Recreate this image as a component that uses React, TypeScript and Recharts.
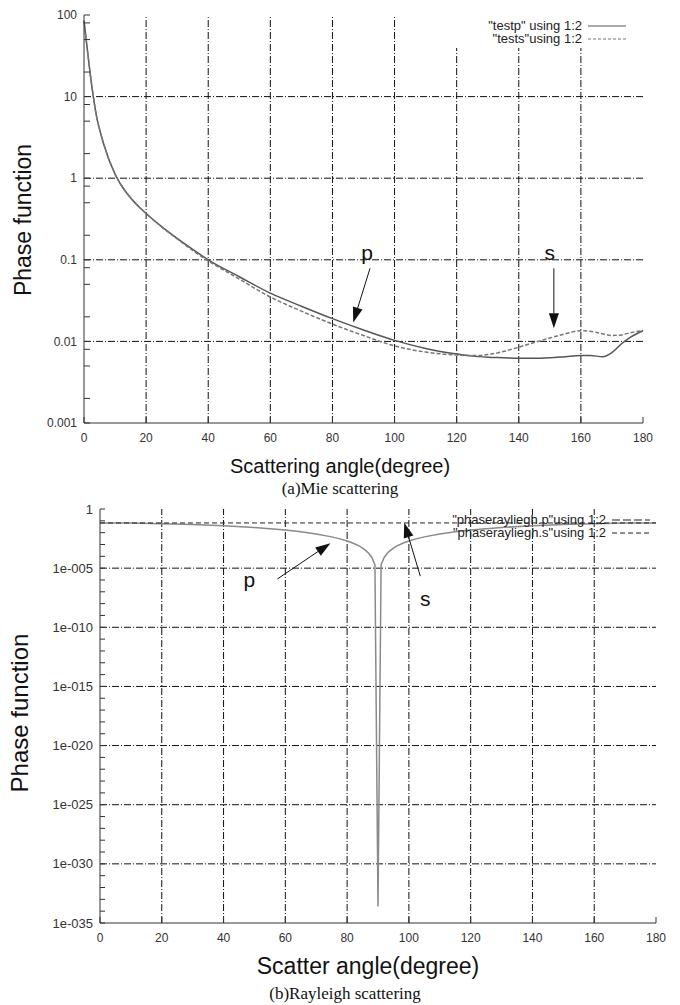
import { LineChart, Line, XAxis, YAxis, ReferenceLine, Legend } from 'recharts'

// (a) Mie scattering
const mieAngle = [0, 1, 2, 3, 4, 5, 6, 7, 8, 9, 10, 11, 12, 14, 16, 18, 20, 25, 30, 35, 40, 50, 60, 70, 80, 90, 100, 110, 120, 125, 130, 135, 140, 145, 150, 155, 160, 163, 167, 170, 173, 176, 180]
const mieP = [85, 40, 19, 10, 5.8, 4.0, 2.9, 2.2, 1.7, 1.38, 1.12, 0.95, 0.82, 0.64, 0.52, 0.435, 0.37, 0.255, 0.183, 0.134, 0.1, 0.062, 0.039, 0.027, 0.019, 0.0138, 0.0103, 0.0082, 0.007, 0.0066, 0.0064, 0.0063, 0.0062, 0.0062, 0.0063, 0.0065, 0.0067, 0.0067, 0.0065, 0.0073, 0.0093, 0.0113, 0.0135]
const mieS = [85, 40, 19, 10, 5.8, 4.0, 2.9, 2.2, 1.7, 1.38, 1.12, 0.95, 0.82, 0.64, 0.52, 0.435, 0.37, 0.253, 0.18, 0.13, 0.097, 0.058, 0.035, 0.0235, 0.0163, 0.0118, 0.0088, 0.0074, 0.0068, 0.0067, 0.0069, 0.0075, 0.0085, 0.0097, 0.011, 0.0124, 0.0135, 0.0133, 0.0124, 0.0118, 0.012, 0.0128, 0.0136]
const mieMajor = [0.001, 0.01, 0.1, 1, 10, 100]
const mieGrid = [0.01, 0.1, 1, 10]

// (b) Rayleigh scattering
const rayAngle = [0, 10, 20, 30, 40, 50, 60, 65, 70, 75, 78, 80, 82, 84, 85, 86, 87, 88, 89, 90, 91, 92, 93, 94, 95, 96, 98, 100, 102, 105, 110, 115, 120, 130, 140, 150, 160, 170, 180]
const rayP = [0.066, 0.064, 0.058, 0.0495, 0.0387, 0.0273, 0.0165, 0.0118, 0.0077, 0.0044, 0.00285, 0.00199, 0.00128, 0.00072, 0.0005, 0.00032, 0.00018, 8.0e-5, 2.0e-5, 2.5e-34, 2.0e-5, 8.0e-5, 0.00018, 0.00032, 0.0005, 0.00072, 0.00128, 0.00199, 0.00285, 0.0044, 0.0077, 0.0118, 0.0165, 0.0273, 0.0387, 0.0495, 0.058, 0.064, 0.066]
const rayS = rayAngle.map(() => 0.066)
const rayMajor = [1, 1e-5, 1e-10, 1e-15, 1e-20, 1e-25, 1e-30, 1e-35]
const rayGrid = [1e-5, 1e-10, 1e-15, 1e-20, 1e-25, 1e-30]

const angleTicks = [0, 20, 40, 60, 80, 100, 120, 140, 160, 180]
const angleGrid = [20, 40, 60, 80, 100, 120, 140, 160]

const mieData = mieAngle.map((a, i) => ({ angle: a, p: mieP[i], s: mieS[i] }))
const rayData = rayAngle.map((a, i) => ({ angle: a, p: rayP[i], s: rayS[i] }))

// minor log ticks (2, 5, 8 per decade on the top plot, every decade on the bottom)
const mieTicks: number[] = []
mieMajor.forEach((d, i) => {
  mieTicks.push(d)
  if (i < mieMajor.length - 1) [2, 5, 8].forEach((m) => mieTicks.push(+(d * m).toPrecision(3)))
})
const rayTicks: number[] = []
for (let e = 0; e >= -35; e--) rayTicks.push(Number('1e' + e))
const rayLabelled = rayMajor.map((v) => Math.round(Math.log10(v)))

const SANS = '"Liberation Sans", Arial, sans-serif'
const SERIF = '"Liberation Serif", "Times New Roman", serif'
const GRID = { stroke: '#111', strokeDasharray: '7 2 1 2', strokeWidth: 1 }
const AXIS = { stroke: '#333', strokeWidth: 1 }

const isDecade = (v: number) => Math.abs(Math.log10(v) - Math.round(Math.log10(v))) < 1e-9

const arrow = (label: string, dx: number, dy: number) => (props: any) => {
  const { x1, y1, x2, y2 } = props
  const ang = Math.atan2(y2 - y1, x2 - x1)
  const len = 15
  const half = 5
  const bx = x2 - len * Math.cos(ang)
  const by = y2 - len * Math.sin(ang)
  const px = -Math.sin(ang) * half
  const py = Math.cos(ang) * half
  return (
    <g>
      <line x1={x1} y1={y1} x2={bx} y2={by} stroke="#111" strokeWidth={1} />
      <polygon points={`${x2},${y2} ${bx + px},${by + py} ${bx - px},${by - py}`} fill="#111" />
      <text x={x1 + dx} y={y1 + dy} textAnchor="middle" fontSize={21} fontFamily={SANS} fill="#111">
        {label}
      </text>
    </g>
  )
}

function LegendRows({ rows, width, bg }: { rows: { name: string; dash?: string; color: string }[]; width: number; bg?: boolean }) {
  return (
    <div style={{ background: bg ? '#fff' : 'transparent', padding: '3px 0', width }}>
      {rows.map((r) => (
        <div key={r.name} style={{ display: 'flex', justifyContent: 'flex-end', alignItems: 'center', height: 13, fontFamily: SANS, fontSize: 13, color: '#222' }}>
          <span style={{ whiteSpace: 'pre' }}>{r.name}</span>
          <svg width={44} height={10} style={{ marginLeft: 4 }}>
            <line x1={2} y1={5} x2={40} y2={5} stroke={r.color} strokeWidth={1.2} strokeDasharray={r.dash} />
          </svg>
        </div>
      ))}
    </div>
  )
}

function Title({ x, y, size, text, rotate, serif }: { x: number; y: number; size: number; text: string; rotate?: boolean; serif?: boolean }) {
  return (
    <div
      style={{
        position: 'absolute',
        left: x,
        top: y,
        transform: `translate(-50%, -50%)${rotate ? ' rotate(-90deg)' : ''}`,
        whiteSpace: 'nowrap',
        fontFamily: serif ? SERIF : SANS,
        fontSize: size,
        color: '#111',
        lineHeight: 1,
      }}
    >
      {text}
    </div>
  )
}

export default function App() {
  return (
    <div style={{ position: 'absolute', left: 0, top: 0, width: 680, height: 1005, background: '#fff' }}>
      <div style={{ position: 'absolute', left: 0, top: 0 }}>
        <LineChart width={680} height={450} data={mieData} margin={{ top: 15, right: 37, bottom: 7, left: 0 }}>
          <XAxis type="number" dataKey="angle" domain={[0, 180]} ticks={angleTicks} interval={0} tickSize={-6} tickMargin={16} axisLine={AXIS} tickLine={AXIS} height={20} tick={{ fontSize: 12, fill: '#333', fontFamily: SANS }} />
          <XAxis xAxisId="top" orientation="top" type="number" dataKey="angle" domain={[0, 180]} ticks={angleTicks} interval={0} tickSize={-6} height={0} tick={false} axisLine={AXIS} tickLine={AXIS} />
          <YAxis scale="log" domain={[0.001, 100]} allowDataOverflow ticks={mieTicks} interval={0} width={84} tickSize={-6} tickMargin={13} axisLine={AXIS} tickLine={AXIS} tickFormatter={(v: number) => (isDecade(v) ? String(v) : '')} tick={{ fontSize: 12, fill: '#333', fontFamily: SANS }} />
          <YAxis yAxisId="right" orientation="right" scale="log" domain={[0.001, 100]} allowDataOverflow ticks={mieTicks} interval={0} width={0} tickSize={-6} tick={false} axisLine={AXIS} tickLine={AXIS} />
          {angleGrid.map((a) => (
            <ReferenceLine key={'v' + a} x={a} {...GRID} />
          ))}
          {mieGrid.map((v) => (
            <ReferenceLine key={'h' + v} y={v} {...GRID} />
          ))}
          <Line dataKey="p" type="monotone" stroke="#555" strokeWidth={1.5} dot={false} isAnimationActive={false} />
          <Line dataKey="s" type="monotone" stroke="#777" strokeWidth={1.5} strokeDasharray="4 2" dot={false} isAnimationActive={false} />
          <ReferenceLine segment={[{ x: 92.1, y: 0.0787 }, { x: 86.7, y: 0.0171 }]} shape={arrow('p', -3, -8)} />
          <ReferenceLine segment={[{ x: 151.3, y: 0.0787 }, { x: 151.3, y: 0.0145 }]} shape={arrow('s', -4, -8)} />
          <Legend
            layout="vertical"
            align="center"
            verticalAlign="middle"
            wrapperStyle={{ position: 'absolute', left: 430, top: 16, width: 200, height: 'auto' }}
            content={() => (
              <LegendRows
                bg
                width={200}
                rows={[
                  { name: '"testp" using 1:2', color: '#555' },
                  { name: '"tests"using 1:2', color: '#777', dash: '3 2' },
                ]}
              />
            )}
          />
        </LineChart>
      </div>

      <div style={{ position: 'absolute', left: 0, top: 500 }}>
        <LineChart width={680} height={450} data={rayData} margin={{ top: 9, right: 24, bottom: 7, left: 0 }}>
          <XAxis type="number" dataKey="angle" domain={[0, 180]} ticks={angleTicks} interval={0} tickSize={-6} tickMargin={16} axisLine={AXIS} tickLine={AXIS} height={20} tick={{ fontSize: 12, fill: '#333', fontFamily: SANS }} />
          <XAxis xAxisId="top" orientation="top" type="number" dataKey="angle" domain={[0, 180]} ticks={angleTicks} interval={0} tickSize={-6} height={0} tick={false} axisLine={AXIS} tickLine={AXIS} />
          <YAxis
            scale="log"
            domain={[1e-35, 1]}
            allowDataOverflow
            ticks={rayTicks}
            interval={0}
            width={100}
            tickSize={-5}
            tickMargin={12}
            axisLine={AXIS}
            tickLine={AXIS}
            tickFormatter={(v: number) => {
              const e = Math.round(Math.log10(v))
              if (!rayLabelled.includes(e)) return ''
              return e === 0 ? '1' : '1e-' + String(-e).padStart(3, '0')
            }}
            tick={{ fontSize: 13, fill: '#333', fontFamily: SANS }}
          />
          <YAxis yAxisId="right" orientation="right" scale="log" domain={[1e-35, 1]} allowDataOverflow ticks={rayTicks} interval={0} width={0} tickSize={-5} tick={false} axisLine={AXIS} tickLine={AXIS} />
          {angleGrid.map((a) => (
            <ReferenceLine key={'v' + a} x={a} {...GRID} />
          ))}
          {rayGrid.map((v) => (
            <ReferenceLine key={'h' + v} y={v} {...GRID} />
          ))}
          <Line dataKey="p" type="linear" stroke="#8a8a8a" strokeWidth={1.5} dot={false} isAnimationActive={false} />
          <Line dataKey="s" type="linear" stroke="#222" strokeWidth={1} strokeDasharray="5 3" dot={false} isAnimationActive={false} />
          <ReferenceLine segment={[{ x: 57.4, y: 1.2e-6 }, { x: 74.6, y: 1.3e-3 }]} shape={arrow('p', -28, 8)} />
          <ReferenceLine segment={[{ x: 103.7, y: 2.1e-6 }, { x: 98.5, y: 0.07 }]} shape={arrow('s', 5, 30)} />
          <Legend
            layout="vertical"
            align="center"
            verticalAlign="middle"
            wrapperStyle={{ position: 'absolute', left: 402, top: 10, width: 252, height: 'auto' }}
            content={() => (
              <LegendRows
                width={252}
                rows={[
                  { name: '"phaserayliegh.p"using 1:2', color: '#222', dash: '8 3' },
                  { name: '"phaserayliegh.s"using 1:2', color: '#222', dash: '5 3' },
                ]}
              />
            )}
          />
        </LineChart>
      </div>

      <Title x={23} y={220} size={23} text="Phase function" rotate />
      <Title x={340} y={466} size={20} text="Scattering angle(degree)" />
      <Title x={340} y={488} size={17} text="(a)Mie scattering" serif />
      <Title x={20} y={713} size={24} text="Phase function" rotate />
      <Title x={368} y={966} size={23} text="Scatter angle(degree)" />
      <Title x={345} y={993} size={17} text="(b)Rayleigh scattering" serif />
    </div>
  )
}
